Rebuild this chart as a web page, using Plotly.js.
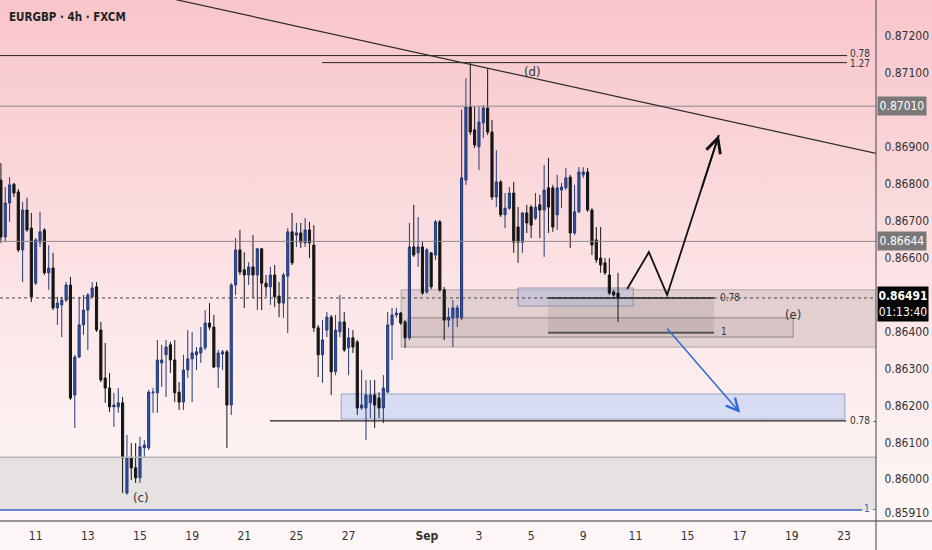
<!DOCTYPE html>
<html>
<head>
<meta charset="utf-8">
<script src="https://cdn.plot.ly/plotly-3.0.1.min.js"></script>
<style>
html,body{margin:0;padding:0;}
body{width:932px;height:550px;overflow:hidden;
background:linear-gradient(to bottom,#f8c6cb 0%,#fad6d9 30%,#fce6e7 55%,#fdf1f1 80%,#fef7f7 100%);}
#chart{width:932px;height:550px;}
</style>
</head>
<body>
<div id="chart"></div>
<script>
// EURGBP 4h candles (FXCM)
const openP = [
0.86810,0.86656,0.86748,0.86799,0.86778,0.86621,0.86729,0.86680,0.86531,0.86642,
0.86675,0.86559,0.86572,0.86464,0.86472,0.86485,0.86526,0.86228,0.86331,0.86418,
0.86458,0.86494,0.86521,0.86404,0.86274,0.86247,0.86196,0.86196,0.86207,0.85963,
0.86058,0.86031,0.86004,0.86085,0.86085,0.86234,0.86234,0.86315,0.86337,0.86364,
0.86323,0.86236,0.86209,0.86296,0.86326,0.86337,0.86342,0.86356,0.86423,0.86412,
0.86304,0.86339,0.86345,0.86201,0.86526,0.86621,0.86567,0.86553,0.86575,0.86553,
0.86624,0.86531,0.86521,0.86553,0.86496,0.86477,0.86550,0.86670,0.86661,0.86667,
0.86640,0.86675,0.86634,0.86410,0.86337,0.86404,0.86439,0.86291,0.86399,0.86426,
0.86356,0.86383,0.86372,0.86193,0.86193,0.86207,0.86228,0.86220,0.86193,0.86236,
0.86418,0.86445,0.86450,0.86426,0.86383,0.86629,0.86613,0.86629,0.86507,0.86613,
0.86607,0.86697,0.86513,0.86431,0.86437,0.86439,0.86437,0.86810,0.87008,0.86946,
0.86900,0.86965,0.87005,0.86940,0.86764,0.86805,0.86716,0.86734,0.86775,0.86683,
0.86642,0.86721,0.86737,0.86707,0.86743,0.86729,0.86789,0.86789,0.86716,0.86783,
0.86789,0.86818,0.86667,0.86724,0.86824,0.86832,0.86729,0.86648,0.86599,0.86586,
0.86553,0.86507,0.86504];
const highP = [
0.86856,0.86791,0.86818,0.86802,0.86786,0.86751,0.86762,0.86721,0.86653,0.86724,
0.86680,0.86634,0.86613,0.86494,0.86494,0.86534,0.86548,0.86337,0.86494,0.86499,
0.86504,0.86534,0.86534,0.86426,0.86369,0.86288,0.86234,0.86247,0.86223,0.86120,
0.86098,0.86098,0.86115,0.86106,0.86242,0.86247,0.86377,0.86364,0.86377,0.86372,
0.86377,0.86263,0.86337,0.86404,0.86399,0.86358,0.86412,0.86458,0.86477,0.86445,
0.86350,0.86350,0.86350,0.86531,0.86653,0.86675,0.86615,0.86588,0.86661,0.86626,
0.86626,0.86553,0.86575,0.86580,0.86534,0.86559,0.86680,0.86721,0.86694,0.86694,
0.86707,0.86697,0.86688,0.86418,0.86431,0.86453,0.86445,0.86445,0.86499,0.86453,
0.86410,0.86404,0.86377,0.86296,0.86269,0.86269,0.86269,0.86236,0.86282,0.86453,
0.86464,0.86464,0.86453,0.86431,0.86694,0.86743,0.86710,0.86642,0.86626,0.86615,
0.86702,0.86702,0.86521,0.86464,0.86485,0.86472,0.87000,0.87086,0.87127,0.87008,
0.87008,0.87013,0.87113,0.86973,0.86891,0.86810,0.86775,0.86791,0.86805,0.86737,
0.86724,0.86743,0.86743,0.86775,0.86770,0.86851,0.86870,0.86797,0.86824,0.86802,
0.86843,0.86824,0.86797,0.86845,0.86845,0.86843,0.86734,0.86683,0.86683,0.86599,
0.86599,0.86513,0.86559];
const lowP = [
0.86640,0.86642,0.86697,0.86764,0.86615,0.86534,0.86670,0.86480,0.86526,0.86629,
0.86553,0.86513,0.86458,0.86418,0.86385,0.86480,0.86215,0.86139,0.86328,0.86391,
0.86350,0.86491,0.86399,0.86263,0.86207,0.86182,0.86142,0.86180,0.85963,0.85958,
0.85998,0.85990,0.85990,0.86058,0.86079,0.86180,0.86180,0.86250,0.86223,0.86288,
0.86209,0.86188,0.86188,0.86274,0.86209,0.86296,0.86315,0.86350,0.86404,0.86301,
0.86247,0.86296,0.86085,0.86174,0.86499,0.86553,0.86464,0.86526,0.86491,0.86458,
0.86458,0.86494,0.86472,0.86466,0.86439,0.86437,0.86396,0.86580,0.86629,0.86626,
0.86629,0.86599,0.86399,0.86277,0.86261,0.86385,0.86228,0.86282,0.86385,0.86345,
0.86282,0.86342,0.86174,0.86188,0.86106,0.86166,0.86139,0.86166,0.86152,0.86234,
0.86323,0.86437,0.86418,0.86356,0.86377,0.86602,0.86575,0.86499,0.86502,0.86515,
0.86594,0.86507,0.86377,0.86412,0.86358,0.86412,0.86431,0.86797,0.86932,0.86897,
0.86837,0.86924,0.86932,0.86756,0.86737,0.86710,0.86680,0.86729,0.86613,0.86586,
0.86613,0.86667,0.86653,0.86702,0.86653,0.86602,0.86667,0.86670,0.86675,0.86734,
0.86783,0.86626,0.86661,0.86721,0.86816,0.86724,0.86607,0.86586,0.86559,0.86553,
0.86499,0.86494,0.86426];
const closeP = [
0.86656,0.86748,0.86797,0.86775,0.86621,0.86729,0.86675,0.86494,0.86648,0.86670,
0.86559,0.86572,0.86464,0.86477,0.86485,0.86526,0.86220,0.86331,0.86418,0.86458,
0.86499,0.86518,0.86404,0.86269,0.86247,0.86196,0.86201,0.86207,0.86058,0.86058,
0.86031,0.86004,0.86088,0.86093,0.86236,0.86236,0.86323,0.86323,0.86358,0.86323,
0.86234,0.86209,0.86296,0.86326,0.86342,0.86345,0.86356,0.86423,0.86412,0.86304,
0.86342,0.86345,0.86201,0.86526,0.86621,0.86561,0.86553,0.86575,0.86553,0.86624,
0.86531,0.86521,0.86553,0.86494,0.86477,0.86553,0.86670,0.86586,0.86667,0.86642,
0.86675,0.86640,0.86410,0.86337,0.86377,0.86439,0.86291,0.86404,0.86426,0.86350,
0.86383,0.86358,0.86193,0.86201,0.86228,0.86228,0.86201,0.86193,0.86247,0.86418,
0.86445,0.86450,0.86423,0.86383,0.86629,0.86607,0.86629,0.86504,0.86621,0.86521,
0.86697,0.86513,0.86431,0.86439,0.86464,0.86464,0.86816,0.87008,0.86940,0.86905,
0.86967,0.87005,0.86940,0.86764,0.86805,0.86716,0.86734,0.86775,0.86642,0.86642,
0.86721,0.86694,0.86688,0.86737,0.86729,0.86783,0.86737,0.86683,0.86789,0.86791,
0.86816,0.86667,0.86724,0.86832,0.86832,0.86729,0.86634,0.86594,0.86580,0.86559,
0.86504,0.86499,0.86491];

// x-axis (candle index of each date label)
const tickIdx = [8,20,32,44,56,68,80,98,110,122,134,146,158,170,182,194];
const tickLabels = ["11","13","15","19","21","25","27","<b>Sep</b>","3","5","9","11","15","17","19","23"];
// y-axis ticks
const yTicks = [0.872,0.871,0.869,0.868,0.867,0.866,0.864,0.863,0.862,0.861,0.860,0.8591];

// drawing levels
const lastPrice = 0.86491;
const levelHigh = 0.87010, levelMid = 0.86644;
const fib078Top = 0.87147, fib127Top = 0.87128, fib078Low = 0.86158, fibOneLow = 0.85917;
const idx = closeP.map((_, i) => i);

const FONT = "Liberation Sans Narrow, DejaVu Sans Condensed, Arial Narrow, sans-serif";

const trace = {
  type: 'candlestick', x: idx, open: openP, high: highP, low: lowP, close: closeP,
  increasing: {line: {color: '#233a78', width: 1}, fillcolor: '#2e50a3'},
  decreasing: {line: {color: '#151515', width: 1}, fillcolor: '#151515'},
  whiskerwidth: 0, hoverinfo: 'none', showlegend: false
};

const XR = [-0.21, 201.36];
const shapes = [
  // bottom gray zone
  {type:'rect', xref:'paper', x0:0, x1:1, yref:'y', y0:fibOneLow, y1:0.86060, fillcolor:'rgba(200,200,200,0.42)', line:{width:0}, layer:'below'},
  {type:'line', xref:'paper', x0:0, x1:1, yref:'y', y0:0.86060, y1:0.86060, line:{color:'#b9b6b6', width:1.5}},
  // big consolidation box
  {type:'rect', xref:'x', x0:92.1, x1:203, yref:'y', y0:0.86358, y1:0.86513, fillcolor:'rgba(130,115,115,0.20)', line:{color:'rgba(125,120,120,0.55)', width:1}, layer:'below'},
  // inner box (e)
  {type:'rect', xref:'x', x0:93.7, x1:182.3, yref:'y', y0:0.86385, y1:0.86437, fillcolor:'rgba(130,115,115,0.12)', line:{color:'rgba(110,105,105,0.7)', width:1}, layer:'below'},
  // fib zone 0.78 - 1
  {type:'rect', xref:'x', x0:125.9, x1:164.1, yref:'y', y0:0.86397, y1:lastPrice, fillcolor:'rgba(130,115,115,0.18)', line:{width:0}, layer:'below'},
  // small blue box
  {type:'rect', xref:'x', x0:119.0, x1:145.5, yref:'y', y0:0.86469, y1:0.86518, fillcolor:'rgba(170,185,225,0.40)', line:{color:'rgba(120,125,160,0.7)', width:1}, layer:'below'},
  // lower blue box
  {type:'rect', xref:'x', x0:78.3, x1:194.2, yref:'y', y0:0.86163, y1:0.86231, fillcolor:'rgba(185,205,245,0.55)', line:{color:'rgba(130,145,180,0.8)', width:1}, layer:'below'},
  // horizontal levels
  {type:'line', xref:'x', x0:-1, x1:194.7, yref:'y', y0:fib078Top, y1:fib078Top, line:{color:'#222', width:1}},
  {type:'line', xref:'x', x0:73.9, x1:194.7, yref:'y', y0:fib127Top, y1:fib127Top, line:{color:'#222', width:1}},
  {type:'line', xref:'paper', x0:0, x1:1, yref:'y', y0:levelHigh, y1:levelHigh, line:{color:'#8c8888', width:1}},
  {type:'line', xref:'paper', x0:0, x1:1, yref:'y', y0:levelMid, y1:levelMid, line:{color:'#8c8888', width:1}},
  {type:'line', xref:'paper', x0:0, x1:1, yref:'y', y0:lastPrice, y1:lastPrice, line:{color:'#444', width:1, dash:'dot'}},
  {type:'line', xref:'x', x0:61.9, x1:194.5, yref:'y', y0:fib078Low, y1:fib078Low, line:{color:'#222', width:1.2}},
  {type:'line', xref:'x', x0:-1, x1:198.2, yref:'y', y0:fibOneLow, y1:fibOneLow, line:{color:'#3b5fc4', width:1.5}},
  // fib lines in the zone
  {type:'line', xref:'x', x0:125.9, x1:164.1, yref:'y', y0:lastPrice, y1:lastPrice, line:{color:'#222', width:1.5}},
  {type:'line', xref:'x', x0:125.9, x1:164.1, yref:'y', y0:0.86397, y1:0.86397, line:{color:'#555', width:2}},
  // descending trendline
  {type:'line', xref:'x', x0:30, x1:203, yref:'y', y0:0.87325, y1:0.86878, line:{color:'#2b2b2b', width:1.2}},
  // zigzag projection
  {type:'path', xref:'x', yref:'y', path:'M 144.1,0.86515 L 149.1,0.86615 L 153.3,0.86499 L 165.2,0.86932', line:{color:'#111', width:1.8}},
  // axis frame lines
  {type:'line', xref:'paper', x0:0, x1:1.07, yref:'paper', y0:0, y1:0, line:{color:'#333', width:1}},
  {type:'line', xref:'paper', x0:1, x1:1, yref:'paper', y0:-0.06, y1:1, line:{color:'#444', width:1}}
];

const small = {family: FONT, size: 10, color: '#333'};
const annotations = [
  {xref:'paper', yref:'paper', x:0.008, y:0.985, xanchor:'left', yanchor:'top', showarrow:false,
   text:'<b>EURGBP · 4h · FXCM</b>', font:{family: FONT, size: 11.5, color:'#222'}},
  {x:122.4, y:0.87103, text:'(d)', showarrow:false, font:{family: FONT, size: 13, color:'#333'}},
  {x:32.2, y:0.85952, text:'(c)', showarrow:false, font:{family: FONT, size: 13, color:'#333'}},
  {x:182.3, y:0.86445, text:'(e)', showarrow:false, font:{family: FONT, size: 13, color:'#333'}},
  {x:165.0, y:lastPrice, xanchor:'left', text:'0.78', showarrow:false, font:small},
  {x:165.3, y:0.86399, xanchor:'left', text:'1', showarrow:false, font:small},
  {x:195.0, y:fib078Top, yshift:2, xanchor:'left', text:'0.78', showarrow:false, font:small},
  {x:195.0, y:fib127Top, yshift:-1, xanchor:'left', text:'1.27', showarrow:false, font:small},
  {x:195.0, y:fib078Low, xanchor:'left', text:'0.78 -', showarrow:false, font:small},
  {x:198.2, y:fibOneLow, yshift:1, xanchor:'left', text:'1 -', showarrow:false, font:{family: FONT, size: 10, color:'#3b5fc4'}},
  // arrows
  {x:165.2, y:0.86932, ax:161.2, ay:0.86786, axref:'x', ayref:'y', showarrow:true, arrowhead:5, arrowsize:1.6, arrowwidth:1.8, arrowcolor:'#111', text:''},
  {x:170.1, y:0.86180, ax:153.0, ay:0.86412, axref:'x', ayref:'y', showarrow:true, arrowhead:5, arrowsize:1.6, arrowwidth:1.5, arrowcolor:'#2f6ad9', text:''},
  // price tags on the axis
  {xref:'paper', x:1, xshift:1, xanchor:'left', y:levelHigh, text:'0.87010', showarrow:false, bgcolor:'#7b7878', width:46, height:16, align:'center', font:{family: FONT, size: 12, color:'#fff'}},
  {xref:'paper', x:1, xshift:1, xanchor:'left', y:levelMid, text:'0.86644', showarrow:false, bgcolor:'#7b7878', width:46, height:16, align:'center', font:{family: FONT, size: 12, color:'#fff'}},
  {xref:'paper', x:1, xshift:1, xanchor:'left', y:lastPrice, yanchor:'top', yshift:12, text:'<b>0.86491</b><br>01:13:40', showarrow:false, bgcolor:'#050505', width:48, height:32, align:'center', font:{family: FONT, size: 12, color:'#fff'}}
];

const layout = {
  width: 932, height: 550,
  margin: {l: 0, r: 56, t: 0, b: 29},
  paper_bgcolor: 'rgba(0,0,0,0)', plot_bgcolor: 'rgba(0,0,0,0)',
  showlegend: false, dragmode: false,
  xaxis: {range: XR, tickvals: tickIdx, ticktext: tickLabels, showgrid: false, zeroline: false,
          rangeslider: {visible: false}, ticks: 'outside', ticklen: 4, tickcolor: 'rgba(0,0,0,0)',
          tickfont: {family: FONT, size: 12, color: '#333'}, showline: false, fixedrange: true},
  yaxis: {side: 'right', range: [0.858871, 0.872975], tickvals: yTicks, tickformat: '.5f',
          showgrid: false, zeroline: false, ticks: 'outside', ticklen: 5, tickcolor: 'rgba(0,0,0,0)',
          tickfont: {family: FONT, size: 12, color: '#333'}, showline: false, fixedrange: true},
  shapes: shapes, annotations: annotations
};

Plotly.newPlot('chart', [trace], layout, {displayModeBar: false, staticPlot: true});
</script>
</body>
</html>
